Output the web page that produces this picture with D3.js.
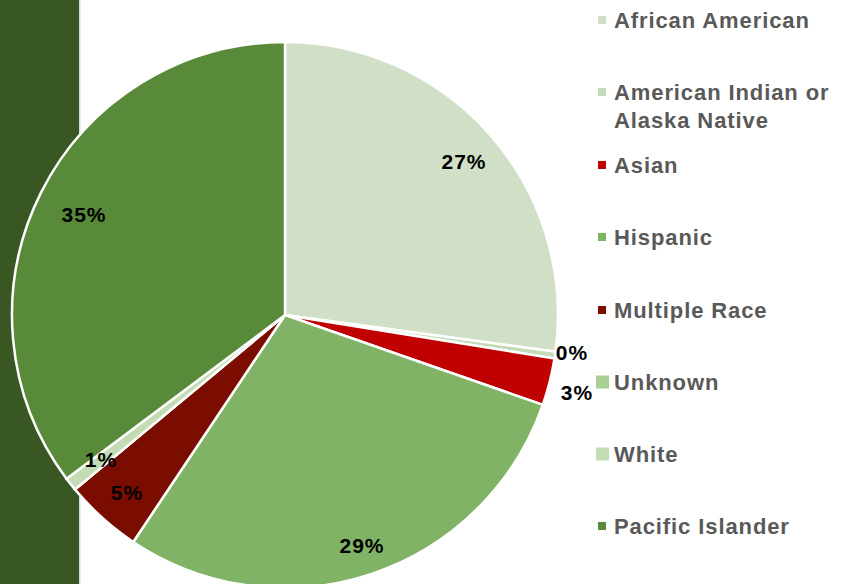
<!DOCTYPE html>
<html><head><meta charset="utf-8">
<script src="https://cdn.jsdelivr.net/npm/d3@7"></script>
<style>body{margin:0;background:#fff;}svg{display:block;}</style>
</head><body>
<script>
const categories = ["African American","American Indian or Alaska Native","Asian","Hispanic","Multiple Race","Unknown","White","Pacific Islander"];
const values = [27.2, 0.4, 2.8, 29.1, 4.6, 0, 0.8, 35.3];
const labels = ["27%","0%","3%","29%","5%","","1%","35%"];
const colors = ["#d0dfc6","#c4dbb8","#c00000","#80b366","#7a0c00","#a9cf94","#c3dcb4","#588a39"];

const W = 847, H = 584;
const svg = d3.select("body").append("svg").attr("width", W).attr("height", H);

svg.append("rect").attr("x",0).attr("y",0).attr("width",79).attr("height",H).attr("fill","#385723");
svg.append("rect").attr("x",79).attr("y",0).attr("width",1.5).attr("height",H).attr("fill","#d9d9d9");

const cx = 285, cy = 315, R = 273;
const pie = d3.pie().sort(null).value(d => d.v);
const data = categories.map((c,i) => ({c, v: values[i], col: colors[i], lab: labels[i]}));
const arcs = pie(data);
const arc = d3.arc().innerRadius(0).outerRadius(R);
const g = svg.append("g").attr("transform", `translate(${cx},${cy})`);
g.selectAll("path").data(arcs).join("path")
  .attr("d", arc).attr("fill", d => d.data.col)
  .attr("stroke", "#fff").attr("stroke-width", 2.5).attr("stroke-linejoin","miter");

const labelPos = [[464,161],[572,352],[577,392],[362,545],[127,492],null,[101,459],[84,214]];
svg.selectAll("text.lab").data(arcs.filter(d => d.data.lab !== "")).join("text")
  .attr("class","lab")
  .attr("x", d => labelPos[d.index][0]).attr("y", d => labelPos[d.index][1])
  .attr("text-anchor","middle").attr("dominant-baseline","central")
  .attr("font-family","Liberation Sans, Arial, sans-serif").attr("font-weight","bold")
  .attr("font-size", 21).attr("letter-spacing", 1).attr("fill","#000")
  .text(d => d.data.lab);

const legY = [20, 92, 165, 237, 310, 382, 454, 526];
const bigMarker = [false,false,false,false,false,true,true,false];
const leg = svg.append("g");
categories.forEach((c,i) => {
  const s = bigMarker[i] ? 13 : 8;
  const mx = bigMarker[i] ? 596 : 598;
  leg.append("rect").attr("x", mx).attr("y", legY[i] - s/2).attr("width", s).attr("height", s).attr("fill", colors[i]);
  const t = leg.append("text").attr("x", 614).attr("y", legY[i])
    .attr("dominant-baseline","central")
    .attr("font-family","Liberation Sans, Arial, sans-serif").attr("font-weight","bold")
    .attr("font-size", 22).attr("letter-spacing", 0.9).attr("fill","#595959");
  if (c === "American Indian or Alaska Native") {
    t.append("tspan").attr("x",614).text("American Indian or");
    t.append("tspan").attr("x",614).attr("dy",28).text("Alaska Native");
  } else t.text(c);
});
</script>
</body></html>
